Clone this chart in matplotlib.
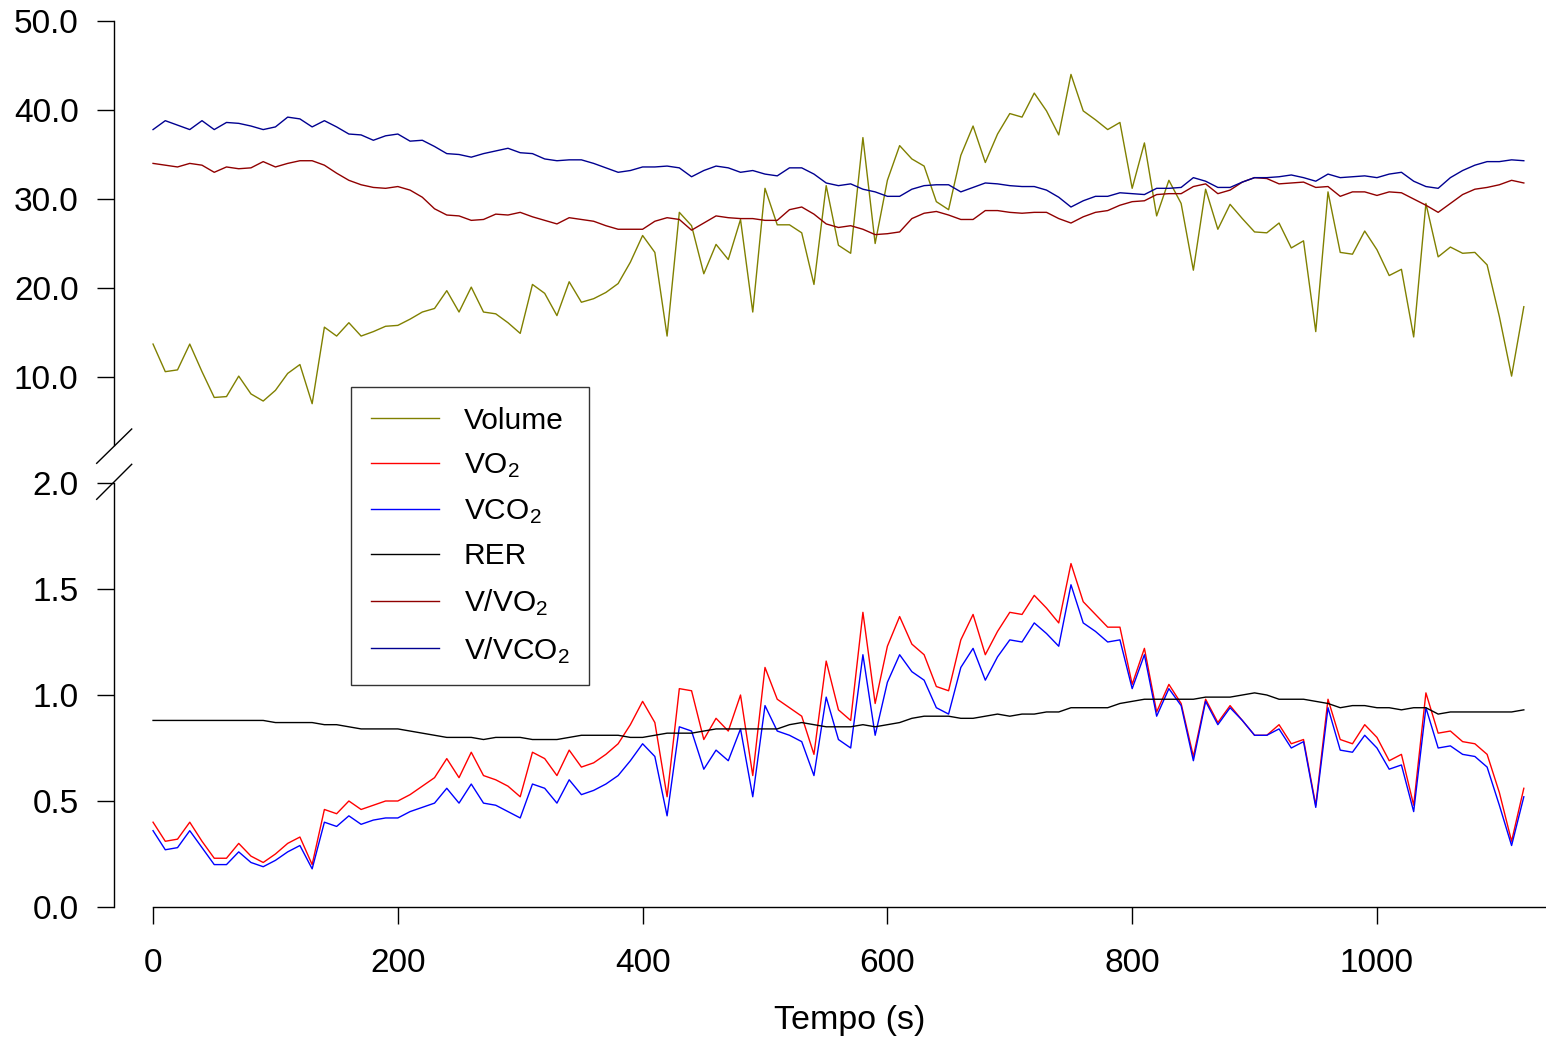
import matplotlib
matplotlib.use("Agg")
import matplotlib.pyplot as plt
from matplotlib.lines import Line2D

plt.rcParams['font.family'] = ['Liberation Sans', 'DejaVu Sans']
plt.rcParams['mathtext.fontset'] = 'custom'
plt.rcParams['mathtext.rm'] = 'Liberation Sans'
plt.rcParams['mathtext.it'] = 'Liberation Sans:italic'
plt.rcParams['mathtext.bf'] = 'Liberation Sans:bold'

# ---------------- data ----------------
time_s = list(range(0, 1130, 10))

volume = [13.7, 10.6, 10.8, 13.7, 10.6, 7.7, 7.8, 10.1, 8.1, 7.3,
          8.5, 10.4, 11.4, 7.0, 15.6, 14.6, 16.1, 14.6, 15.1, 15.7,
          15.8, 16.5, 17.3, 17.7, 19.7, 17.3, 20.1, 17.3, 17.1, 16.1,
          14.9, 20.4, 19.4, 16.9, 20.7, 18.4, 18.8, 19.5, 20.5, 22.9,
          25.9, 24.0, 14.6, 28.5, 27.0, 21.6, 24.9, 23.2, 27.7, 17.3,
          31.2, 27.1, 27.1, 26.2, 20.4, 31.5, 24.8, 23.9, 36.9, 25.0,
          32.1, 36.0, 34.5, 33.7, 29.7, 28.8, 34.9, 38.2, 34.1, 37.3,
          39.6, 39.2, 41.9, 39.9, 37.2, 44.0, 39.9, 38.9, 37.8, 38.6,
          31.2, 36.3, 28.1, 32.1, 29.5, 22.0, 31.1, 26.6, 29.4, 27.8,
          26.3, 26.2, 27.3, 24.5, 25.3, 15.1, 30.8, 24.0, 23.8, 26.4,
          24.3, 21.4, 22.1, 14.5, 29.5, 23.5, 24.6, 23.9, 24.0, 22.6,
          16.8, 10.1, 17.9]

v_vo2 = [34.0, 33.8, 33.6, 34.0, 33.8, 33.0, 33.6, 33.4, 33.5, 34.2,
         33.6, 34.0, 34.3, 34.3, 33.8, 32.9, 32.1, 31.6, 31.3, 31.2,
         31.4, 31.0, 30.2, 28.9, 28.2, 28.1, 27.6, 27.7, 28.3, 28.2,
         28.5, 28.0, 27.6, 27.2, 27.9, 27.7, 27.5, 27.0, 26.6, 26.6,
         26.6, 27.5, 27.9, 27.7, 26.5, 27.3, 28.1, 27.9, 27.8, 27.8,
         27.6, 27.6, 28.8, 29.1, 28.3, 27.2, 26.8, 27.0, 26.6, 26.0,
         26.1, 26.3, 27.8, 28.4, 28.6, 28.2, 27.7, 27.7, 28.7, 28.7,
         28.5, 28.4, 28.5, 28.5, 27.8, 27.3, 28.0, 28.5, 28.7, 29.3,
         29.7, 29.8, 30.5, 30.6, 30.6, 31.4, 31.7, 30.6, 31.0, 31.9,
         32.4, 32.3, 31.7, 31.8, 31.9, 31.3, 31.4, 30.3, 30.8, 30.8,
         30.4, 30.8, 30.7, 30.0, 29.3, 28.5, 29.5, 30.5, 31.1, 31.3,
         31.6, 32.1, 31.8]

v_vco2 = [37.8, 38.8, 38.3, 37.8, 38.8, 37.8, 38.6, 38.5, 38.2, 37.8,
          38.1, 39.2, 39.0, 38.1, 38.8, 38.1, 37.3, 37.2, 36.6, 37.1,
          37.3, 36.5, 36.6, 35.9, 35.1, 35.0, 34.7, 35.1, 35.4, 35.7,
          35.2, 35.1, 34.5, 34.3, 34.4, 34.4, 34.0, 33.5, 33.0, 33.2,
          33.6, 33.6, 33.7, 33.5, 32.5, 33.2, 33.7, 33.5, 33.0, 33.2,
          32.8, 32.6, 33.5, 33.5, 32.8, 31.8, 31.5, 31.7, 31.1, 30.8,
          30.3, 30.3, 31.1, 31.5, 31.6, 31.6, 30.8, 31.3, 31.8, 31.7,
          31.5, 31.4, 31.4, 31.0, 30.2, 29.1, 29.8, 30.3, 30.3, 30.7,
          30.6, 30.5, 31.2, 31.2, 31.3, 32.4, 32.0, 31.3, 31.3, 31.9,
          32.4, 32.4, 32.5, 32.7, 32.4, 32.0, 32.8, 32.4, 32.5, 32.6,
          32.4, 32.8, 33.0, 32.0, 31.4, 31.2, 32.4, 33.2, 33.8, 34.2,
          34.2, 34.4, 34.3]

vo2 = [0.40, 0.31, 0.32, 0.40, 0.31, 0.23, 0.23, 0.30, 0.24, 0.21,
       0.25, 0.30, 0.33, 0.20, 0.46, 0.44, 0.50, 0.46, 0.48, 0.50,
       0.50, 0.53, 0.57, 0.61, 0.70, 0.61, 0.73, 0.62, 0.60, 0.57,
       0.52, 0.73, 0.70, 0.62, 0.74, 0.66, 0.68, 0.72, 0.77, 0.86,
       0.97, 0.87, 0.52, 1.03, 1.02, 0.79, 0.89, 0.83, 1.00, 0.62,
       1.13, 0.98, 0.94, 0.90, 0.72, 1.16, 0.93, 0.88, 1.39, 0.96,
       1.23, 1.37, 1.24, 1.19, 1.04, 1.02, 1.26, 1.38, 1.19, 1.30,
       1.39, 1.38, 1.47, 1.41, 1.34, 1.62, 1.44, 1.38, 1.32, 1.32,
       1.05, 1.22, 0.92, 1.05, 0.96, 0.71, 0.98, 0.87, 0.95, 0.88,
       0.81, 0.81, 0.86, 0.77, 0.79, 0.48, 0.98, 0.79, 0.77, 0.86,
       0.80, 0.69, 0.72, 0.48, 1.01, 0.82, 0.83, 0.78, 0.77, 0.72,
       0.54, 0.31, 0.56]

vco2 = [0.36, 0.27, 0.28, 0.36, 0.28, 0.20, 0.20, 0.26, 0.21, 0.19,
        0.22, 0.26, 0.29, 0.18, 0.40, 0.38, 0.43, 0.39, 0.41, 0.42,
        0.42, 0.45, 0.47, 0.49, 0.56, 0.49, 0.58, 0.49, 0.48, 0.45,
        0.42, 0.58, 0.56, 0.49, 0.60, 0.53, 0.55, 0.58, 0.62, 0.69,
        0.77, 0.71, 0.43, 0.85, 0.83, 0.65, 0.74, 0.69, 0.84, 0.52,
        0.95, 0.83, 0.81, 0.78, 0.62, 0.99, 0.79, 0.75, 1.19, 0.81,
        1.06, 1.19, 1.11, 1.07, 0.94, 0.91, 1.13, 1.22, 1.07, 1.18,
        1.26, 1.25, 1.34, 1.29, 1.23, 1.52, 1.34, 1.30, 1.25, 1.26,
        1.03, 1.19, 0.90, 1.03, 0.95, 0.69, 0.97, 0.86, 0.94, 0.88,
        0.81, 0.81, 0.84, 0.75, 0.78, 0.47, 0.94, 0.74, 0.73, 0.81,
        0.75, 0.65, 0.67, 0.45, 0.94, 0.75, 0.76, 0.72, 0.71, 0.66,
        0.48, 0.29, 0.52]

rer = [0.88, 0.88, 0.88, 0.88, 0.88, 0.88, 0.88, 0.88, 0.88, 0.88,
       0.87, 0.87, 0.87, 0.87, 0.86, 0.86, 0.85, 0.84, 0.84, 0.84,
       0.84, 0.83, 0.82, 0.81, 0.80, 0.80, 0.80, 0.79, 0.80, 0.80,
       0.80, 0.79, 0.79, 0.79, 0.80, 0.81, 0.81, 0.81, 0.81, 0.80,
       0.80, 0.81, 0.82, 0.82, 0.82, 0.83, 0.84, 0.84, 0.84, 0.84,
       0.84, 0.84, 0.86, 0.87, 0.86, 0.85, 0.85, 0.85, 0.86, 0.85,
       0.86, 0.87, 0.89, 0.90, 0.90, 0.90, 0.89, 0.89, 0.90, 0.91,
       0.90, 0.91, 0.91, 0.92, 0.92, 0.94, 0.94, 0.94, 0.94, 0.96,
       0.97, 0.98, 0.98, 0.98, 0.98, 0.98, 0.99, 0.99, 0.99, 1.00,
       1.01, 1.00, 0.98, 0.98, 0.98, 0.97, 0.96, 0.94, 0.95, 0.95,
       0.94, 0.94, 0.93, 0.94, 0.94, 0.91, 0.92, 0.92, 0.92, 0.92,
       0.92, 0.92, 0.93]

top_ticks = [10, 20, 30, 40, 50]
bottom_ticks = [0.0, 0.5, 1.0, 1.5, 2.0]
x_ticks = [0, 200, 400, 600, 800, 1000]
x_label = "Tempo (s)"

# ---------------- figure ----------------
W, H = 1546, 1043
fig = plt.figure(figsize=(W / 100, H / 100), dpi=100)

def fx(px):
    return px / W

def fy(py):
    return 1 - py / H

left, right = fx(114), fx(1545)
ax_top = fig.add_axes([left, fy(445), right - left, fy(21) - fy(445)])
ax_bot = fig.add_axes([left, fy(907), right - left, fy(483) - fy(907)])

XMIN, XMAX = -31.9, 1137.3
FS = 24
LEG_FS = 21.5
LW = 1.0

c_vol = '#808000'
c_vo2 = '#ff0000'
c_vco2 = '#0000ff'
c_rer = '#000000'
c_vvo2 = '#900000'
c_vvco2 = '#000090'

l_vol, = ax_top.plot(time_s, volume, color=c_vol, lw=LW)
l_vvo2, = ax_top.plot(time_s, v_vo2, color=c_vvo2, lw=LW)
l_vvco2, = ax_top.plot(time_s, v_vco2, color=c_vvco2, lw=LW)

l_vo2, = ax_bot.plot(time_s, vo2, color=c_vo2, lw=LW)
l_vco2, = ax_bot.plot(time_s, vco2, color=c_vco2, lw=LW)
l_rer, = ax_bot.plot(time_s, rer, color=c_rer, lw=LW)

for ax in (ax_top, ax_bot):
    ax.set_xlim(XMIN, XMAX)
    ax.spines['top'].set_visible(False)
    ax.spines['right'].set_visible(False)
    ax.spines['left'].set_linewidth(1.0)
    ax.tick_params(axis='y', direction='out', length=12, width=1.0,
                   pad=13.5, labelsize=FS)
    ax.patch.set_alpha(0)

ax_top.set_ylim(2.36, 50)
ax_top.set_yticks(top_ticks)
ax_top.set_yticklabels([f"{v:.1f}" for v in top_ticks])
ax_top.spines['bottom'].set_visible(False)
ax_top.set_xticks([])

ax_bot.set_ylim(0, 2.0)
ax_bot.set_yticks(bottom_ticks)
ax_bot.set_yticklabels([f"{v:.1f}" for v in bottom_ticks])
ax_bot.spines['bottom'].set_bounds(0, XMAX)
ax_bot.spines['bottom'].set_linewidth(1.0)
ax_bot.set_xticks(x_ticks)
ax_bot.set_xticklabels([str(v) for v in x_ticks])
ax_bot.tick_params(axis='x', direction='out', length=12, width=1.0,
                   pad=17.5, labelsize=FS)
ax_bot.set_xlabel(x_label, fontsize=24.5)
ax_bot.xaxis.label.set_va('center')
ax_bot.xaxis.set_label_coords((850 - 114) / (1545 - 114), -(1021 - 907) / (907 - 483))

# axis break marks
for (x0, y0, x1, y1) in [(96.7, 463.3, 131.7, 429.0), (96.7, 499.3, 131.7, 464.3)]:
    fig.add_artist(Line2D([fx(x0), fx(x1)], [fy(y0), fy(y1)],
                          transform=fig.transFigure, color='black', lw=1.0))

# legend
handles = [l_vol, l_vo2, l_vco2, l_rer, l_vvo2, l_vvco2]
labels = ['Volume', r'VO$_\mathregular{2}$', r'VCO$_\mathregular{2}$', 'RER',
          r'V/VO$_\mathregular{2}$', r'V/VCO$_\mathregular{2}$']
leg = fig.legend(handles, labels, loc='upper left',
                 bbox_to_anchor=(fx(351), fy(387)), bbox_transform=fig.transFigure,
                 fontsize=LEG_FS, frameon=True, fancybox=False, shadow=False,
                 borderaxespad=0, borderpad=0.66, handlelength=2.3,
                 handletextpad=0.82, labelspacing=0.56)
leg.get_frame().set_edgecolor('black')
leg.get_frame().set_linewidth(1.0)

fig.savefig('out.png', dpi=100)
